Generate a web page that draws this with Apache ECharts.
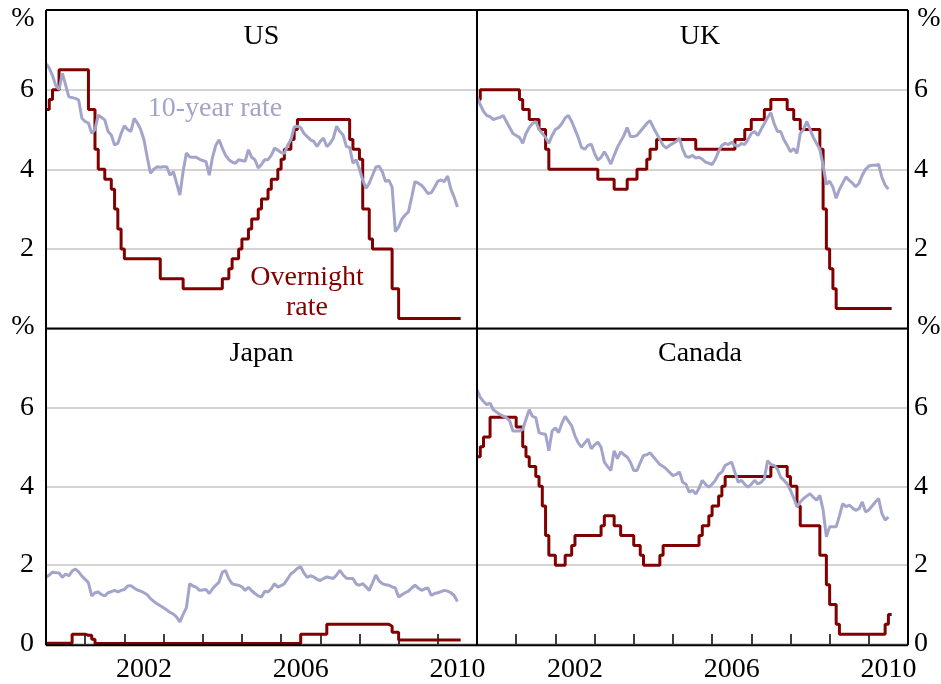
<!DOCTYPE html>
<html><head><meta charset="utf-8">
<script src="https://cdn.jsdelivr.net/npm/echarts@6/dist/echarts.min.js"></script>
<style>html,body{margin:0;padding:0;background:#fff}#c{width:941px;height:684px}</style>
</head><body><div id="c"></div>
<script>
// ---- data (monthly, starting January 2000) ----
const startYear = 2000;
const panelNames = ['US', 'UK', 'Japan', 'Canada'];
const yearLabels = [2002, 2006, 2010];
const tenYearLabel = '10-year rate';
const overnightLabel = ['Overnight', 'rate'];

const usTenYear = [
 6.65,6.54,6.35,6.10,6.00,6.41,6.12,5.82,5.80,5.78,5.74,5.28,
 5.20,5.16,4.90,5.00,5.36,5.30,5.24,4.95,4.86,4.61,4.65,4.90,
 5.09,5.00,4.95,5.28,5.16,5.00,4.74,4.30,3.90,4.00,4.06,4.05,
 4.06,4.06,3.85,3.94,3.65,3.35,3.95,4.41,4.31,4.30,4.30,4.25,
 4.22,4.19,3.85,4.30,4.60,4.74,4.53,4.35,4.24,4.18,4.15,4.24,
 4.22,4.20,4.49,4.30,4.24,4.03,4.12,4.24,4.24,4.35,4.53,4.48,
 4.42,4.40,4.60,4.74,5.06,5.08,5.05,4.90,4.82,4.74,4.70,4.57,
 4.70,4.78,4.57,4.65,4.78,5.08,4.95,4.86,4.57,4.55,4.15,4.24,
 4.00,3.73,3.52,3.65,3.85,4.05,4.08,3.94,3.69,3.73,3.55,2.43,
 2.55,2.75,2.85,2.93,3.30,3.69,3.65,3.60,3.50,3.39,3.41,3.55,
 3.70,3.73,3.69,3.83,3.50,3.30,3.05];
const usOvernight = [
 5.5,5.75,6.0,6.0,6.5,6.5,6.5,6.5,6.5,6.5,6.5,6.5,
 6.5,5.5,5.5,4.5,4.0,4.0,3.75,3.75,3.5,3.0,2.5,2.0,
 1.75,1.75,1.75,1.75,1.75,1.75,1.75,1.75,1.75,1.75,1.75,1.25,
 1.25,1.25,1.25,1.25,1.25,1.25,1.0,1.0,1.0,1.0,1.0,1.0,
 1.0,1.0,1.0,1.0,1.0,1.0,1.25,1.25,1.5,1.75,1.75,2.0,
 2.25,2.25,2.5,2.75,2.75,3.0,3.25,3.25,3.5,3.75,3.75,4.0,
 4.25,4.5,4.5,4.75,5.0,5.25,5.25,5.25,5.25,5.25,5.25,5.25,
 5.25,5.25,5.25,5.25,5.25,5.25,5.25,5.25,5.25,4.75,4.5,4.5,
 4.25,3.0,3.0,2.25,2.0,2.0,2.0,2.0,2.0,2.0,1.0,1.0,
 0.25,0.25,0.25,0.25,0.25,0.25,0.25,0.25,0.25,0.25,0.25,0.25,
 0.25,0.25,0.25,0.25,0.25,0.25,0.25];

const ukTenYear = [
 5.83,5.62,5.45,5.35,5.32,5.25,5.28,5.30,5.35,5.20,5.05,4.90,
 4.85,4.80,4.65,4.90,5.05,5.15,5.20,5.00,4.90,4.80,4.65,4.85,
 5.00,5.05,5.15,5.29,5.35,5.20,5.00,4.80,4.55,4.50,4.60,4.63,
 4.40,4.23,4.30,4.44,4.30,4.13,4.35,4.55,4.70,4.85,5.05,4.82,
 4.82,4.85,4.95,5.05,5.15,5.22,5.05,4.90,4.75,4.60,4.53,4.60,
 4.65,4.70,4.78,4.50,4.32,4.30,4.35,4.28,4.30,4.25,4.18,4.15,
 4.12,4.25,4.45,4.60,4.65,4.62,4.68,4.60,4.58,4.65,4.62,4.75,
 4.90,4.95,4.85,5.00,5.15,5.30,5.42,5.15,4.95,4.95,4.74,4.60,
 4.44,4.52,4.40,4.90,5.00,5.20,5.00,4.80,4.65,4.50,4.10,3.62,
 3.70,3.55,3.27,3.50,3.65,3.81,3.72,3.65,3.56,3.65,3.85,4.00,
 4.08,4.10,4.10,4.12,3.80,3.60,3.50];
const ukOvernight = [
 5.75,6.0,6.0,6.0,6.0,6.0,6.0,6.0,6.0,6.0,6.0,6.0,
 6.0,5.75,5.5,5.5,5.25,5.25,5.25,5.0,5.0,4.5,4.0,4.0,
 4.0,4.0,4.0,4.0,4.0,4.0,4.0,4.0,4.0,4.0,4.0,4.0,
 4.0,3.75,3.75,3.75,3.75,3.75,3.5,3.5,3.5,3.5,3.75,3.75,
 3.75,4.0,4.0,4.0,4.25,4.5,4.5,4.75,4.75,4.75,4.75,4.75,
 4.75,4.75,4.75,4.75,4.75,4.75,4.75,4.5,4.5,4.5,4.5,4.5,
 4.5,4.5,4.5,4.5,4.5,4.5,4.5,4.75,4.75,4.75,5.0,5.0,
 5.25,5.25,5.25,5.25,5.5,5.5,5.75,5.75,5.75,5.75,5.75,5.5,
 5.5,5.25,5.25,5.0,5.0,5.0,5.0,5.0,5.0,4.5,3.0,2.0,
 1.5,1.0,0.5,0.5,0.5,0.5,0.5,0.5,0.5,0.5,0.5,0.5,
 0.5,0.5,0.5,0.5,0.5,0.5,0.5];

const jpTenYear = [
 1.69,1.75,1.82,1.81,1.80,1.69,1.77,1.73,1.85,1.90,1.83,1.72,
 1.64,1.55,1.22,1.30,1.32,1.25,1.22,1.30,1.33,1.36,1.32,1.36,
 1.38,1.47,1.48,1.42,1.37,1.34,1.30,1.25,1.15,1.08,1.02,0.97,
 0.92,0.86,0.80,0.76,0.68,0.56,0.75,0.92,1.53,1.47,1.44,1.36,
 1.37,1.38,1.28,1.40,1.49,1.57,1.82,1.86,1.65,1.53,1.50,1.49,
 1.45,1.36,1.44,1.35,1.28,1.22,1.19,1.34,1.32,1.40,1.53,1.44,
 1.48,1.53,1.65,1.78,1.84,1.92,1.96,1.80,1.69,1.73,1.70,1.64,
 1.61,1.66,1.70,1.68,1.66,1.75,1.87,1.75,1.67,1.66,1.66,1.52,
 1.49,1.53,1.45,1.36,1.55,1.75,1.60,1.53,1.50,1.49,1.45,1.42,
 1.19,1.25,1.30,1.34,1.42,1.49,1.42,1.36,1.40,1.42,1.23,1.28,
 1.30,1.33,1.36,1.34,1.30,1.23,1.08];
const jpOvernight = [
 0.02,0.02,0.02,0.02,0.02,0.02,0.02,0.02,0.25,0.25,0.25,0.25,
 0.22,0.22,0.12,0.01,0.01,0.01,0.01,0.01,0.01,0.01,0.01,0.01,
 0.01,0.01,0.01,0.01,0.01,0.01,0.01,0.01,0.01,0.01,0.01,0.01,
 0.01,0.01,0.01,0.01,0.01,0.01,0.01,0.01,0.01,0.01,0.01,0.01,
 0.01,0.01,0.01,0.01,0.01,0.01,0.01,0.01,0.01,0.01,0.01,0.01,
 0.01,0.01,0.01,0.01,0.01,0.01,0.01,0.01,0.01,0.01,0.01,0.01,
 0.01,0.01,0.01,0.01,0.01,0.01,0.25,0.25,0.25,0.25,0.25,0.25,
 0.25,0.25,0.5,0.5,0.5,0.5,0.5,0.5,0.5,0.5,0.5,0.5,
 0.5,0.5,0.5,0.5,0.5,0.5,0.5,0.5,0.5,0.45,0.3,0.3,
 0.1,0.1,0.1,0.1,0.1,0.1,0.1,0.1,0.1,0.1,0.1,0.1,
 0.1,0.1,0.1,0.1,0.1,0.1,0.1];

const caTenYear = [
 6.45,6.25,6.15,6.07,6.11,5.94,5.88,5.82,5.78,5.74,5.66,5.40,
 5.40,5.40,5.44,5.70,5.94,5.77,5.74,5.36,5.33,5.32,4.90,5.40,
 5.48,5.36,5.60,5.77,5.65,5.53,5.28,5.10,4.99,5.10,5.20,4.95,
 5.05,5.12,4.99,4.61,4.50,4.40,4.90,4.70,4.87,4.80,4.74,4.61,
 4.40,4.40,4.60,4.78,4.80,4.85,4.75,4.65,4.55,4.50,4.44,4.35,
 4.27,4.30,4.36,4.10,4.05,3.85,3.90,3.80,3.95,4.15,4.05,3.98,
 4.05,4.15,4.30,4.36,4.53,4.57,4.61,4.35,4.10,4.15,4.05,3.98,
 4.05,4.15,4.06,4.10,4.19,4.65,4.55,4.53,4.44,4.23,4.15,4.06,
 3.90,3.70,3.48,3.60,3.69,3.75,3.81,3.72,3.65,3.77,3.40,2.72,
 2.97,2.97,2.97,3.25,3.56,3.48,3.52,3.45,3.39,3.43,3.60,3.35,
 3.40,3.50,3.60,3.69,3.31,3.14,3.22];
const caOvernight = [
 4.75,5.0,5.25,5.25,5.75,5.75,5.75,5.75,5.75,5.75,5.75,5.75,
 5.5,5.5,5.0,4.75,4.5,4.5,4.25,4.0,3.5,2.75,2.25,2.25,
 2.0,2.0,2.0,2.25,2.25,2.5,2.75,2.75,2.75,2.75,2.75,2.75,
 2.75,2.75,3.0,3.25,3.25,3.25,3.0,3.0,2.75,2.75,2.75,2.75,
 2.5,2.5,2.25,2.0,2.0,2.0,2.0,2.0,2.25,2.5,2.5,2.5,
 2.5,2.5,2.5,2.5,2.5,2.5,2.5,2.5,2.75,3.0,3.0,3.25,
 3.5,3.5,3.75,4.0,4.25,4.25,4.25,4.25,4.25,4.25,4.25,4.25,
 4.25,4.25,4.25,4.25,4.25,4.25,4.5,4.5,4.5,4.5,4.5,4.25,
 4.0,4.0,3.5,3.0,3.0,3.0,3.0,3.0,3.0,2.25,2.25,1.5,
 1.0,1.0,0.5,0.25,0.25,0.25,0.25,0.25,0.25,0.25,0.25,0.25,
 0.25,0.25,0.25,0.25,0.25,0.5,0.75];

const tenYearSets = [usTenYear, ukTenYear, jpTenYear, caTenYear];
const overnightSets = [usOvernight, ukOvernight, jpOvernight, caOvernight];

// ---- layout & style ----
const FONT = '"Liberation Serif", "Times New Roman", serif';
const FS = 28;
const RED = '#800000';
const LAV = '#a2a5c9';
const L = 46, C = 477, R = 908, T = 10, M = 328.5, B = 645.3;
const boxes = [
  {left: L, top: T, width: C - L, height: M - T},
  {left: C, top: T, width: R - C, height: M - T},
  {left: L, top: M, width: C - L, height: B - M},
  {left: C, top: M, width: R - C, height: B - M}
];

const toMonthly = arr => arr.map((v, i) => [startYear + i / 12, v]);
const toStep = arr => toMonthly(arr).concat([[startYear + arr.length / 12, arr[arr.length - 1]]]);

const grid = boxes.map(b => ({left: b.left, top: b.top, width: b.width, height: b.height, show: false}));

const xAxis = boxes.map((b, i) => ({
  type: 'value', gridIndex: i, min: 2000, max: 2011, interval: 1,
  axisLine: {show: false}, splitLine: {show: false}, axisLabel: {show: false},
  axisTick: {show: i >= 2, inside: true, length: 10, lineStyle: {color: '#000', width: 1.5}}
}));
[2, 3].forEach(gi => xAxis.push({
  type: 'value', gridIndex: gi, min: 2000, max: 2011, interval: 0.5, position: 'bottom',
  axisLine: {show: false}, splitLine: {show: false}, axisTick: {show: false},
  axisLabel: {
    show: true, margin: 12, fontSize: FS, fontFamily: FONT, color: '#000',
    formatter: v => {
      const y = Math.floor(v + 1e-6);
      return (Math.abs(v - y - 0.5) < 1e-6 && yearLabels.includes(y)) ? String(y) : '';
    }
  }
}));

const yAxis = boxes.map((b, i) => ({
  type: 'value', gridIndex: i, min: 0, max: 8, interval: 2,
  position: i % 2 ? 'right' : 'left',
  axisLine: {show: false}, axisTick: {show: false},
  splitLine: {show: true, lineStyle: {color: '#c4c4c4', width: 1.5}},
  axisLabel: {
    fontSize: FS, fontFamily: FONT, color: '#000', margin: i % 2 ? 6 : 12,
    formatter: v => (v === 8 || (i < 2 && v === 0)) ? '' : String(v)
  }
}));

const series = [];
boxes.forEach((b, i) => {
  series.push({
    type: 'line', xAxisIndex: i, yAxisIndex: i, step: 'end',
    data: toStep(overnightSets[i]), showSymbol: false, symbol: 'none',
    lineStyle: {color: RED, width: 3}, z: 3
  });
  series.push({
    type: 'line', xAxisIndex: i, yAxisIndex: i,
    data: toMonthly(tenYearSets[i]), showSymbol: false, symbol: 'none',
    lineStyle: {color: LAV, width: 3}, z: 4
  });
});

const txt = (x, y, text, color, size) => ({
  type: 'text', x: x, y: y, z: 50, silent: true,
  style: {text: text, fill: color || '#000', fontSize: size || FS, fontFamily: FONT,
    align: 'center', verticalAlign: 'middle', textAlign: 'center', textVerticalAlign: 'middle'}
});
const line = (x1, y1, x2, y2) => ({
  type: 'line', z: 60, silent: true,
  shape: {x1: x1, y1: y1, x2: x2, y2: y2},
  style: {stroke: '#000', lineWidth: 2}
});

const graphic = [
  line(L, T, R, T), line(L, B, R, B), line(L, T, L, B), line(R, T, R, B),
  line(C, T, C, B), line(L, M, R, M),
  txt(261.5, 37, panelNames[0]), txt(700, 37, panelNames[1]),
  txt(261.5, 354, panelNames[2]), txt(700, 354, panelNames[3]),
  txt(23, 19, '%'), txt(23, 327, '%'), txt(929, 19, '%'), txt(929, 327, '%'),
  txt(215, 109, tenYearLabel, LAV),
  txt(307, 278, overnightLabel[0], RED), txt(307, 308, overnightLabel[1], RED)
];

const chart = echarts.init(document.getElementById('c'), null, {renderer: 'canvas'});
chart.setOption({animation: false, backgroundColor: '#fff', grid, xAxis, yAxis, series, graphic});
</script>
</body></html>
